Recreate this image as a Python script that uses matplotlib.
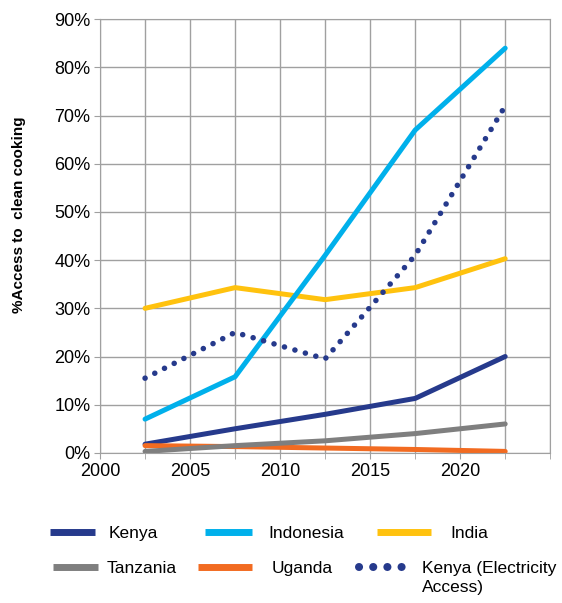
import matplotlib.pyplot as plt
from matplotlib.lines import Line2D
from matplotlib.ticker import FuncFormatter, MultipleLocator, FixedLocator

plt.rcParams['font.family'] = ['Liberation Sans', 'DejaVu Sans']

# данные
years = [2002.5, 2007.5, 2012.5, 2017.5, 2022.5]
kenya = [1.8, 5.0, 8.0, 11.3, 20.0]
indonesia = [7.0, 15.8, 41.0, 67.0, 84.0]
india = [30.0, 34.3, 31.8, 34.3, 40.3]
tanzania = [0.3, 1.5, 2.5, 4.0, 6.0]
uganda = [1.5, 1.3, 1.0, 0.7, 0.3]
kenya_elec = [15.5, 25.0, 19.5, 41.0, 72.0]
x_labels = [2000, 2005, 2010, 2015, 2020]

c_kenya = '#263a8c'
c_indo = '#00b0eb'
c_india = '#ffc20e'
c_tanz = '#7f7f7f'
c_uganda = '#f26b21'

fig = plt.figure(figsize=(5.62, 6.03), dpi=100)
ax = fig.add_axes([0.178, 0.249, 0.801, 0.719])

lw = 3.6
ax.plot(years, india, color=c_india, lw=lw, solid_capstyle='round')
ax.plot(years, indonesia, color=c_indo, lw=lw, solid_capstyle='round')
ax.plot(years, kenya_elec, color=c_kenya, lw=4, linestyle=(0, (0.01, 1.95)),
        dash_capstyle='round')
ax.plot(years, kenya, color=c_kenya, lw=lw, solid_capstyle='round')
ax.plot(years, uganda, color=c_uganda, lw=lw, solid_capstyle='round')
ax.plot(years, tanzania, color=c_tanz, lw=lw, solid_capstyle='round')

ax.set_xlim(2000, 2025)
ax.set_ylim(0, 90)
ax.xaxis.set_major_locator(FixedLocator(x_labels))
ax.xaxis.set_minor_locator(MultipleLocator(2.5))
ax.yaxis.set_major_locator(MultipleLocator(10))
ax.yaxis.set_major_formatter(FuncFormatter(lambda v, p: '%d%%' % v))
ax.grid(True, which='both', color='#a0a0a0', lw=1)
ax.set_axisbelow(True)
for s in ax.spines.values():
    s.set_color('#a0a0a0')
ax.tick_params(axis='both', which='both', colors='#a0a0a0', labelcolor='black',
               labelsize=13, length=4, pad=3)
ax.set_ylabel('%Access to  clean cooking', fontsize=11, fontweight='bold')
ax.yaxis.set_label_coords(-0.165, 0.55)

# легенда: каждая запись отдельно (x начала значка, y строки, длина значка, отступ)
def solid(c):
    return Line2D([], [], color=c, lw=5, solid_capstyle='butt')

dots = Line2D([], [], color=c_kenya, lw=5.8, linestyle=(0, (0.01, 1.75)),
              dash_capstyle='round')
entries = [
    (solid(c_kenya), 'Kenya', 50, 533, 2.6, 0.75),
    (solid(c_indo), 'Indonesia', 205, 533, 2.7, 0.95),
    (solid(c_india), 'India', 377, 533, 3.1, 1.15),
    (solid(c_tanz), 'Tanzania', 53, 568, 2.6, 0.5),
    (solid(c_uganda), 'Uganda', 198, 568, 3.1, 1.15),
    (dots, 'Kenya (Electricity', 359, 568, 2.75, 0.85),
]
W, H = 562.0, 603.0
legends = []
for h, lab, xh, yh, hl, pad in entries:
    leg = fig.legend(handles=[h], labels=[lab], loc='center left',
                     bbox_to_anchor=(xh / W, 1 - yh / H), frameon=False,
                     fontsize=12.5, handlelength=hl, handletextpad=pad,
                     borderpad=0, borderaxespad=0)
    legends.append(leg)

# вторая строка подписи "Kenya (Electricity Access)"
fig.canvas.draw()
bb = legends[-1].get_texts()[0].get_window_extent()
x_px, y_px = fig.transFigure.inverted().transform((bb.x0, bb.y0))
fig.text(x_px, y_px - 0.008, 'Access)', fontsize=12.5, ha='left', va='top')

fig.savefig('out.png', dpi=100)
